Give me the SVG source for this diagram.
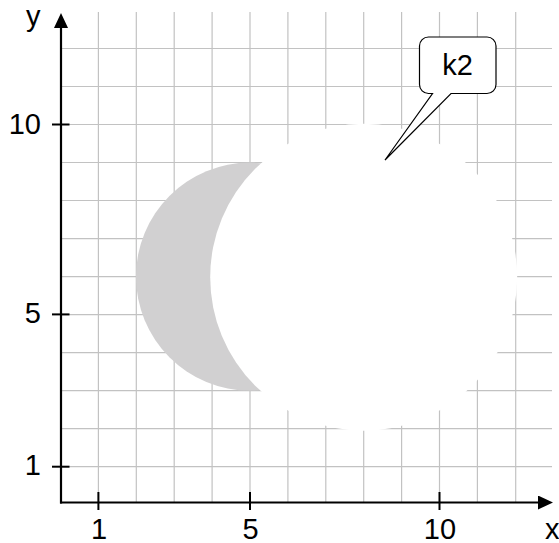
<svg xmlns="http://www.w3.org/2000/svg" width="559" height="543" viewBox="0 0 559 543">
<style>
.grid line{stroke:#c2c2c2;stroke-width:1.2}
.axis{stroke:#000;stroke-width:2.2;fill:none}
.tick{stroke:#000;stroke-width:2}
.lbl{font-family:"Liberation Sans",Arial,sans-serif;font-size:29px;fill:#000}
</style>
<defs>
<marker id="arr" markerWidth="16" markerHeight="16" refX="0" refY="7" orient="auto" markerUnits="userSpaceOnUse">
<path d="M0,0 L15,7 L0,14 Z" fill="#000"/>
</marker>
</defs>
<rect width="559" height="543" fill="#fff"/>
<g id="grid" class="grid">
<line x1="98.4" y1="12" x2="98.4" y2="503"/>
<line x1="136.3" y1="12" x2="136.3" y2="503"/>
<line x1="174.2" y1="12" x2="174.2" y2="503"/>
<line x1="212.1" y1="12" x2="212.1" y2="503"/>
<line x1="250" y1="12" x2="250" y2="503"/>
<line x1="287.9" y1="12" x2="287.9" y2="503"/>
<line x1="325.8" y1="12" x2="325.8" y2="503"/>
<line x1="363.7" y1="12" x2="363.7" y2="503"/>
<line x1="401.6" y1="12" x2="401.6" y2="503"/>
<line x1="439.5" y1="12" x2="439.5" y2="503"/>
<line x1="477.4" y1="12" x2="477.4" y2="503"/>
<line x1="515.7" y1="12" x2="515.7" y2="503"/>
<line x1="61" y1="466.7" x2="552" y2="466.7"/>
<line x1="61" y1="428.7" x2="552" y2="428.7"/>
<line x1="61" y1="390.6" x2="552" y2="390.6"/>
<line x1="61" y1="352.6" x2="552" y2="352.6"/>
<line x1="61" y1="314.6" x2="552" y2="314.6"/>
<line x1="61" y1="276.6" x2="552" y2="276.6"/>
<line x1="61" y1="238.6" x2="552" y2="238.6"/>
<line x1="61" y1="200.5" x2="552" y2="200.5"/>
<line x1="61" y1="162.5" x2="552" y2="162.5"/>
<line x1="61" y1="124.5" x2="552" y2="124.5"/>
<line x1="61" y1="86.5" x2="552" y2="86.5"/>
<line x1="61" y1="48.5" x2="552" y2="48.5"/>
</g>
<g id="crescent">
<circle cx="250" cy="276.6" r="114" fill="#d1d0d1"/>
</g>
<g id="circle">
<circle cx="363.7" cy="277.2" r="153.5" fill="#fff"/>
</g>
<g id="axes">
<path class="axis" d="M61,503.5 V28" marker-end="url(#arr)"/>
<path class="axis" d="M60,502.5 H538" marker-end="url(#arr)"/>
<line class="tick" x1="52" y1="124.5" x2="69.5" y2="124.5"/>
<line class="tick" x1="52" y1="314.4" x2="69.5" y2="314.4"/>
<line class="tick" x1="52" y1="466.7" x2="69.5" y2="466.7"/>
<line class="tick" x1="98.4" y1="492" x2="98.4" y2="510"/>
<line class="tick" x1="250" y1="492" x2="250" y2="510"/>
<line class="tick" x1="439.5" y1="492" x2="439.5" y2="510"/>
<text class="lbl" x="41" y="133.5" text-anchor="end">10</text>
<text class="lbl" x="41" y="322.5" text-anchor="end">5</text>
<text class="lbl" x="41" y="474.5" text-anchor="end">1</text>
<text class="lbl" x="99" y="538.5" text-anchor="middle">1</text>
<text class="lbl" x="250.5" y="538.5" text-anchor="middle">5</text>
<text class="lbl" x="440" y="538.5" text-anchor="middle">10</text>
<text class="lbl" x="26" y="26">y</text>
<text class="lbl" x="545" y="538.5">x</text>
</g>
<g id="connectors"></g>
<g id="k2">
<path d="M428.5,37 H487 A9,9 0 0 1 496,46 V84.5 A9,9 0 0 1 487,93.5 H451 L385,160 L432.5,93.5 H428.5 A9,9 0 0 1 419.5,84.5 V46 A9,9 0 0 1 428.5,37 Z" fill="#fff" stroke="#000" stroke-width="1.2"/>
<text class="lbl" x="457.5" y="75" text-anchor="middle">k2</text>
</g>
</svg>
